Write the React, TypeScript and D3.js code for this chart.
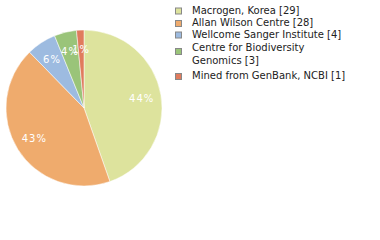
import React from "react";
import * as d3 from "d3";

const categories = [
  "Macrogen, Korea [29]",
  "Allan Wilson Centre [28]",
  "Wellcome Sanger Institute [4]",
  "Centre for Biodiversity|Genomics [3]",
  "Mined from GenBank, NCBI [1]",
];
const values = [29, 28, 4, 3, 1];
const colors = ["#dde39d", "#efab6d", "#9dbbe0", "#9ac479", "#e07b5d"];

export default function App() {
  const cx = 84, cy = 108, r = 78;
  const total = d3.sum(values);
  const pie = d3.pie<number>().sort(null).value((d) => d)(values);
  const arc = d3.arc<d3.PieArcDatum<number>>().innerRadius(0).outerRadius(r);
  const labelArc = d3.arc<d3.PieArcDatum<number>>().innerRadius(r * 0.75).outerRadius(r * 0.75);
  const rowY = [10, 22.5, 34.5, 54, 75.5];
  const sqY = [11, 23.5, 35, 51.5, 76.5];
  return (
    <svg width={380} height={240} style={{ position: "absolute", left: 0, top: 0 }}>
      <rect width={380} height={240} fill="#fff" />
      <g transform={`translate(${cx},${cy})`}>
        {pie.map((p, i) => (
          <path key={i} d={arc(p) || ""} fill={colors[i]} stroke="#fff" strokeWidth={0.5} />
        ))}
        {pie.map((p, i) => {
          const [x, y] = labelArc.centroid(p);
          return (
            <text key={i} x={x} y={y} dy="0.35em" textAnchor="middle" fill="#fff"
              fontFamily="DejaVu Sans" fontSize={10} letterSpacing={1}>
              {Math.floor((values[i] / total) * 100)}%
            </text>
          );
        })}
      </g>
      {categories.map((c, i) => {
        const lines = c.split("|");
        const y = rowY[i];
        return (
          <g key={i}>
            <rect x={175.5} y={sqY[i] - 3} width={6} height={6} fill={colors[i]} stroke="#888" strokeWidth={1} />
            {lines.map((l, j) => (
              <text key={j} x={192} y={y - (lines.length - 1) * 6.75 + j * 13.5} dy="0.35em"
                fontFamily="DejaVu Sans" fontSize={10} fill="#222">
                {l}
              </text>
            ))}
          </g>
        );
      })}
    </svg>
  );
}
